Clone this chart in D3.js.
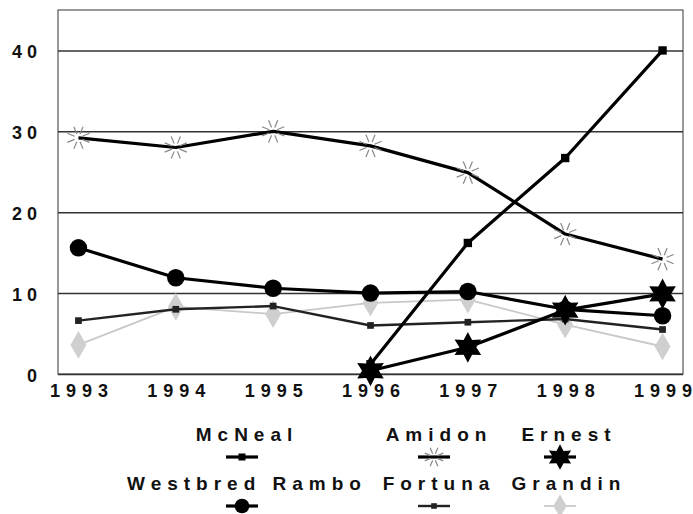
<!DOCTYPE html>
<html>
<head>
<meta charset="utf-8">
<script src="https://cdn.jsdelivr.net/npm/d3@7"></script>
<style>
  body { margin: 0; background: #fff; }
  text { font-family: "Liberation Sans", Arial, sans-serif; font-weight: bold; fill: #111; }
</style>
</head>
<body>
<div id="chart"></div>
<script>
// years and acreage share (%) per variety
const years = ['1993', '1994', '1995', '1996', '1997', '1998', '1999'];
const yTicks = [0, 10, 20, 30, 40];

const mcneal  = [null, null, null, 1.2, 16.2, 26.7, 40.0];
const amidon  = [29.2, 28.0, 30.0, 28.2, 24.9, 17.3, 14.2];
const ernest  = [null, null, null, 0.4, 3.3, 7.9, 9.9];
const rambo   = [15.6, 11.9, 10.6, 10.0, 10.2, 8.0, 7.2];
const fortuna = [6.6, 8.0, 8.4, 6.0, 6.4, 6.8, 5.5];
const grandin = [3.6, 8.3, 7.4, 8.8, 9.2, 6.1, 3.4];

const width = 693, height = 514;
const margin = { top: 10, right: 10, bottom: 140, left: 58 };

const svg = d3.select('#chart').append('svg')
  .attr('width', width)
  .attr('height', height);

const x = d3.scalePoint()
  .domain(years)
  .range([margin.left, width - margin.right])
  .padding(0.21);

const y = d3.scaleLinear()
  .domain([0, 45])
  .range([height - margin.bottom, margin.top]);

// custom marker shapes
const star6 = {
  draw(ctx, size) {
    const R = Math.sqrt(size) * 0.75, r = R * 0.55;
    for (let i = 0; i < 12; i++) {
      const a = Math.PI / 6 * i - Math.PI / 2;
      const rr = i % 2 ? r : R;
      if (i === 0) ctx.moveTo(rr * Math.cos(a), rr * Math.sin(a));
      else ctx.lineTo(rr * Math.cos(a), rr * Math.sin(a));
    }
    ctx.closePath();
  }
};
const burst = {
  draw(ctx, size) {
    const R = Math.sqrt(size) * 0.6, r = R * 0.35;
    for (let i = 0; i < 8; i++) {
      const a = Math.PI / 4 * i + Math.PI / 8;
      ctx.moveTo(r * Math.cos(a), r * Math.sin(a));
      ctx.lineTo(R * Math.cos(a), R * Math.sin(a));
    }
  }
};

const series = [
  { name: 'McNeal', values: mcneal, line: '#000', lw: 3.2, sym: d3.symbolSquare, size: 70, fill: '#000', stroke: 'none', col: 0, row: 0 },
  { name: 'Amidon', values: amidon, line: '#000', lw: 3.2, sym: burst, size: 400, fill: 'none', stroke: '#888', col: 1, row: 0 },
  { name: 'Ernest', values: ernest, line: '#000', lw: 3.2, sym: star6, size: 420, fill: '#000', stroke: 'none', col: 2, row: 0 },
  { name: 'Westbred Rambo', values: rambo, line: '#000', lw: 3.2, sym: d3.symbolCircle, size: 240, fill: '#000', stroke: 'none', col: 0, row: 1 },
  { name: 'Fortuna', values: fortuna, line: '#222', lw: 2.4, sym: d3.symbolSquare, size: 45, fill: '#222', stroke: 'none', col: 1, row: 1 },
  { name: 'Grandin', values: grandin, line: '#c8c8c8', lw: 1.8, sym: d3.symbolDiamond, size: 220, fill: '#cfcfcf', stroke: 'none', col: 2, row: 1 }
];

// frame
svg.append('rect')
  .attr('x', margin.left)
  .attr('y', margin.top)
  .attr('width', width - margin.right - margin.left)
  .attr('height', height - margin.bottom - margin.top)
  .attr('fill', 'none')
  .attr('stroke', '#555')
  .attr('stroke-width', 1.2);

// gridlines + y labels
const yAxis = svg.append('g')
  .attr('transform', `translate(${margin.left},0)`)
  .call(d3.axisLeft(y).tickValues(yTicks).tickSize(-(width - margin.right - margin.left)).tickPadding(16));
yAxis.select('.domain').remove();
yAxis.selectAll('.tick line').attr('stroke', '#333').attr('stroke-width', 1.5);
yAxis.selectAll('.tick text')
  .style('font-size', '18px')
  .style('letter-spacing', '5px')
  .attr('dy', '0.4em')
  .attr('fill', '#111');

// x labels (spread with textLength so the last one stays inside)
const xAxis = svg.append('g')
  .attr('transform', `translate(0,${height - margin.bottom})`)
  .call(d3.axisBottom(x).tickSize(0).tickPadding(10));
xAxis.select('.domain').remove();
xAxis.selectAll('.tick text')
  .style('font-size', '18px')
  .attr('textLength', 58)
  .attr('lengthAdjust', 'spacing')
  .attr('fill', '#111');

const line = d3.line()
  .defined(d => d != null)
  .x((d, i) => x(years[i]))
  .y(d => y(d));

// draw back to front: grandin first
const order = [5, 4, 3, 1, 0, 2];
order.forEach(k => {
  const s = series[k];
  svg.append('path')
    .datum(s.values)
    .attr('fill', 'none')
    .attr('stroke', s.line)
    .attr('stroke-width', s.lw)
    .attr('stroke-linejoin', 'round')
    .attr('d', line);
  svg.append('g').selectAll('path')
    .data(s.values.map((v, i) => ({ v, i })).filter(d => d.v != null))
    .enter().append('path')
    .attr('transform', d => `translate(${x(years[d.i])},${y(d.v)})`)
    .attr('d', d3.symbol().type(s.sym).size(s.size))
    .attr('fill', s.fill)
    .attr('stroke', s.stroke)
    .attr('stroke-width', 1.2);
});

// legend
const legCols = [242, 434, 560];
const legText = [244, 436, 566];
const legRows = [441, 490];
const leg = svg.append('g');
series.forEach(s => {
  const cx = legCols[s.col], ty = legRows[s.row];
  leg.append('text')
    .attr('x', legText[s.col] + 3)
    .attr('y', ty)
    .attr('text-anchor', 'middle')
    .style('font-size', '19px')
    .style('letter-spacing', '6px')
    .text(s.name);
  const my = ty + 16;
  leg.append('line')
    .attr('x1', cx - 16).attr('x2', cx + 16)
    .attr('y1', my).attr('y2', my)
    .attr('stroke', s.line)
    .attr('stroke-width', s.lw);
  leg.append('path')
    .attr('transform', `translate(${cx},${my})`)
    .attr('d', d3.symbol().type(s.sym).size(s.size * 0.7))
    .attr('fill', s.fill)
    .attr('stroke', s.stroke)
    .attr('stroke-width', 1.2);
});
</script>
</body>
</html>
